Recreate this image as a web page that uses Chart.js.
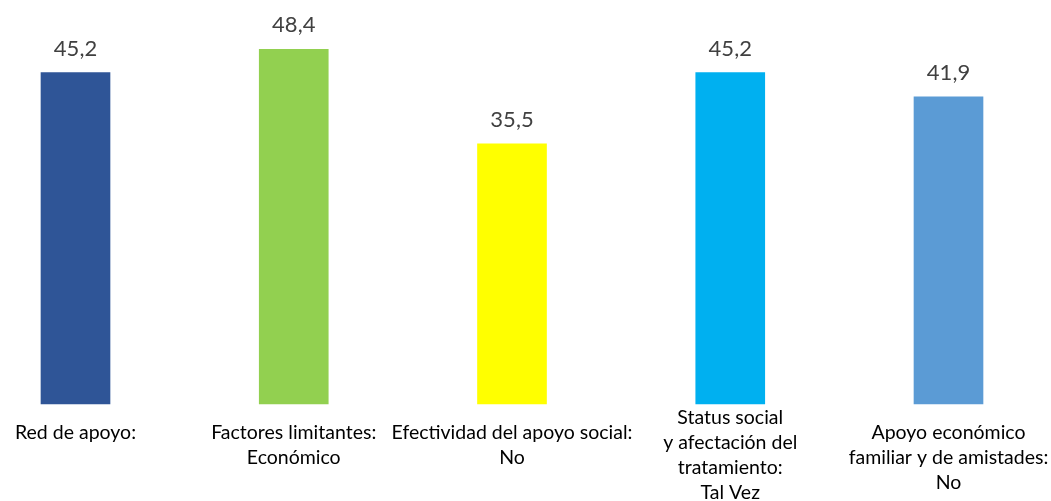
<!DOCTYPE html>
<html>
<head>
<meta charset="utf-8">
<script src="https://cdn.jsdelivr.net/npm/chart.js@4.4.1/dist/chart.umd.min.js"></script>
<style>
  html, body { margin: 0; padding: 0; background: #fff; }
  #wrap { width: 1051px; height: 501px; position: relative; }
</style>
</head>
<body>
<div id="wrap"><canvas id="chart"></canvas></div>
<script>
// Categories (one entry per line of the axis label)
const categories = [
    ['Red de apoyo:'],
    ['Factores limitantes:', 'Económico'],
    ['Efectividad del apoyo social:', 'No'],
    ['Status social', 'y afectación del', 'tratamiento:', 'Tal Vez'],
    ['Apoyo económico', 'familiar y de amistades:', 'No']
];
const values = [45.2, 48.4, 35.5, 45.2, 41.9];
const barColors = ['#2F5597', '#92D050', '#FFFF00', '#00B0F0', '#5B9BD5'];

const LABEL_FONT = '19.5px Lato';
const VALUE_FONT = '22px Lato';
const LINE_H = 25;

// Draws the value over each bar and the multi-line category names under it
const labelPlugin = {
    id: 'barLabels',
    afterDraw(chart) {
        const ctx = chart.ctx;
        const meta = chart.getDatasetMeta(0);
        const xScale = chart.scales.x;
        const area = chart.chartArea;
        ctx.save();
        ctx.textAlign = 'center';
        ctx.textBaseline = 'alphabetic';

        ctx.font = VALUE_FONT;
        ctx.fillStyle = '#404040';
        meta.data.forEach((bar, i) => {
            const txt = values[i].toFixed(1).replace('.', ',');
            ctx.fillText(txt, bar.x, bar.y - 17);
        });

        ctx.font = LABEL_FONT;
        ctx.fillStyle = '#000';
        categories.forEach((lines, i) => {
            const x = xScale.getPixelForValue(i);
            // keep long labels inside the canvas
            let y = area.bottom + 35;
            const lastMax = chart.height - 2;
            if (y + (lines.length - 1) * LINE_H > lastMax) {
                y = lastMax - (lines.length - 1) * LINE_H;
            }
            lines.forEach((line, j) => {
                ctx.fillText(line, x, y + j * LINE_H);
            });
        });
        ctx.restore();
    }
};

const ctx = document.getElementById('chart').getContext('2d');
new Chart(ctx, {
    type: 'bar',
    data: {
        labels: categories.map(c => c.join(' ')),
        datasets: [{
            data: values,
            backgroundColor: barColors,
            borderWidth: 0,
            barThickness: 69,
            clip: false
        }]
    },
    options: {
        responsive: true,
        maintainAspectRatio: false,
        animation: false,
        layout: {
            padding: { left: 75.5, right: 102.5, top: 37.5, bottom: 97 }
        },
        plugins: {
            legend: { display: false },
            tooltip: { enabled: false }
        },
        scales: {
            x: {
                display: false,
                offset: false,
                grid: { display: false }
            },
            y: {
                display: false,
                min: 0,
                max: 50
            }
        }
    },
    plugins: [labelPlugin]
});
</script>
</body>
</html>
